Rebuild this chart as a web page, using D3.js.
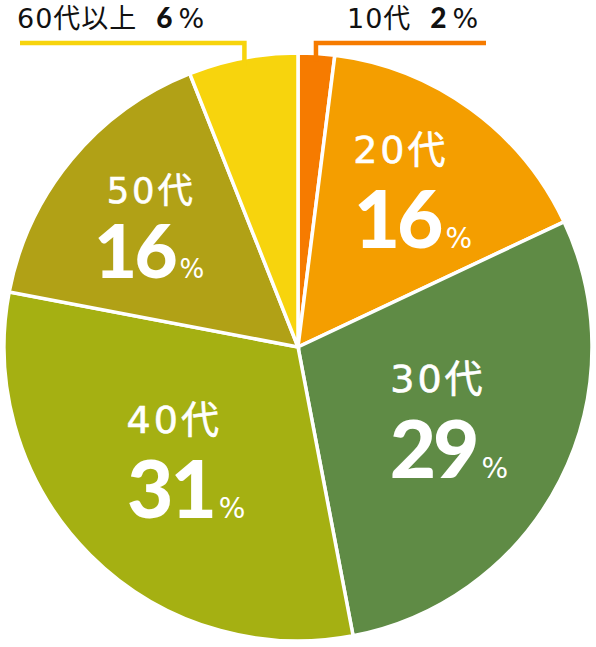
<!DOCTYPE html>
<html>
<head>
<meta charset="utf-8">
<script src="https://cdn.jsdelivr.net/npm/d3@7/dist/d3.min.js"></script>
<style>
  html, body { margin: 0; padding: 0; background: #fff; }
  svg { display: block; }
</style>
</head>
<body>
<svg id="chart" width="596" height="647"></svg>
<script>
// Age groups and their shares (%)
const ageGroups = ["10代", "20代", "30代", "40代", "50代", "60代以上"];
const shares = [2, 16, 29, 31, 16, 6];
const sliceColors = ["#f67b00", "#f49e00", "#5f8b45", "#a5b012", "#b1a116", "#f7d40d"];

// Slices whose label sits outside the pie, with a leader line
const outsideGroups = ["10代", "60代以上"];

const width = 596, height = 647;
const cx = 298, cy = 347, R = 294;

const svg = d3.select("#chart");
const g = svg.append("g").attr("transform", `translate(${cx},${cy})`);

const data = ageGroups.map((name, i) => ({ name, value: shares[i], color: sliceColors[i] }));

const pie = d3.pie().value(d => d.value).sort(null);
const arcs = pie(data);
const arc = d3.arc().innerRadius(0).outerRadius(R);

g.selectAll("path.slice")
  .data(arcs)
  .join("path")
  .attr("class", "slice")
  .attr("d", arc)
  .attr("fill", d => d.data.color)
  .attr("stroke", "#fff")
  .attr("stroke-width", 3.5)
  .attr("stroke-linejoin", "miter");

// Inside labels: anchored on a centroid ring, with small per-label nudges
const labelArc = d3.arc().innerRadius(175).outerRadius(175);
const inside = {
  "20代": { nudge: [0, 0], pctShift: 12, scale: 1, gap: 42.5 },
  "30代": { nudge: [-16, 9], pctShift: 11, scale: 1, gap: 43 },
  "40代": { nudge: [0, 5], pctShift: 12, scale: 1, gap: 42.5 },
  "50代": { nudge: [-12, 5], pctShift: -2, scale: 0.93, gap: 37.5 }
};

const nameFont = "'DejaVu Sans', 'Noto Sans CJK JP', sans-serif";
const numFont = "Lato, 'Noto Sans CJK JP', sans-serif";

arcs.filter(a => inside[a.data.name]).forEach(a => {
  const cfg = inside[a.data.name];
  const [px, py] = labelArc.centroid(a);
  const x = px + cfg.nudge[0], y = py + cfg.nudge[1];
  const s = cfg.scale;

  g.append("text")
    .attr("x", x).attr("y", y - cfg.gap)
    .attr("text-anchor", "middle")
    .attr("fill", "#fff")
    .attr("stroke", "#fff")
    .attr("stroke-width", 0.6)
    .attr("font-family", nameFont)
    .attr("font-size", 38 * s)
    .attr("letter-spacing", 3 * s)
    .text(a.data.name);

  const t = g.append("text")
    .attr("x", x + cfg.pctShift).attr("y", y + cfg.gap)
    .attr("text-anchor", "middle")
    .attr("fill", "#fff");
  t.append("tspan")
    .attr("font-family", numFont)
    .attr("font-weight", 900)
    .attr("font-size", 80 * s)
    .attr("letter-spacing", -3 * s)
    .text(a.data.value);
  t.append("tspan")
    .attr("dx", 5 * s)
    .attr("font-family", nameFont)
    .attr("font-size", 28 * s)
    .text("%");
});

// Outside labels with leader lines
const lineY = 43 - cy;
const outside = {
  "10代": { end: 486 - cx, textX: 347 - cx },
  "60代以上": { end: 20 - cx, textX: 17 - cx }
};

arcs.filter(a => outsideGroups.includes(a.data.name)).forEach(a => {
  const cfg = outside[a.data.name];
  const mid = (a.startAngle + a.endAngle) / 2;
  const r0 = R - 8;
  const x0 = r0 * Math.sin(mid), y0 = -r0 * Math.cos(mid);
  const line = d3.line();
  g.append("path")
    .attr("d", line([[x0, y0], [x0, lineY], [cfg.end, lineY]]))
    .attr("fill", "none")
    .attr("stroke", a.data.color)
    .attr("stroke-width", 4.5)
    .attr("stroke-linejoin", "miter");

  const t = g.append("text")
    .attr("x", cfg.textX).attr("y", 28 - cy)
    .attr("fill", "#111");
  t.append("tspan")
    .attr("font-family", "'DejaVu Sans', 'Noto Sans CJK JP', sans-serif")
    .attr("font-size", 27)
    .attr("letter-spacing", 1)
    .text(a.data.name);
  t.append("tspan")
    .attr("dx", 19)
    .attr("font-family", numFont)
    .attr("font-weight", 900)
    .attr("font-size", 28)
    .text(a.data.value);
  t.append("tspan")
    .attr("dx", 6)
    .attr("font-family", "'DejaVu Sans', 'Noto Sans CJK JP', sans-serif")
    .attr("font-size", 27)
    .text("%");
});
</script>
</body>
</html>
